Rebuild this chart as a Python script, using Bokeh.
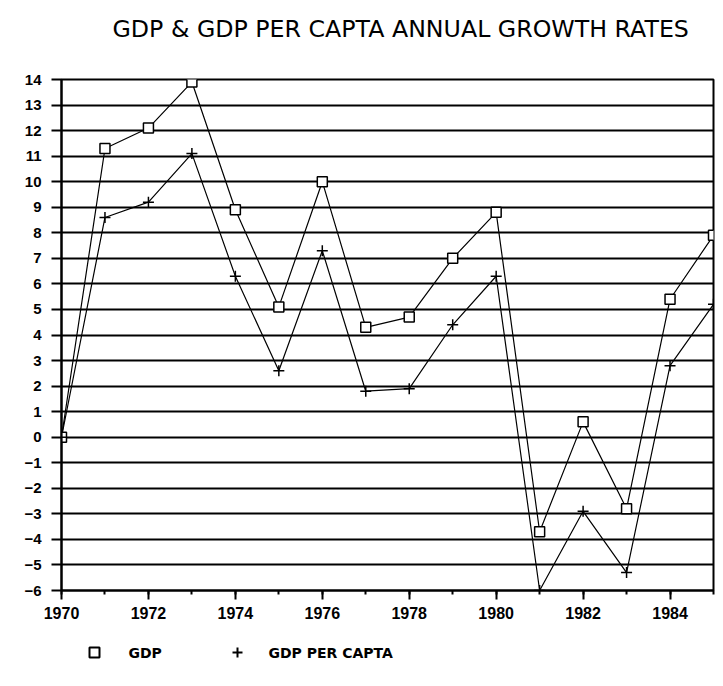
from bokeh.plotting import figure
from bokeh.layouts import column
from bokeh.models import FixedTicker
from bokeh.core.properties import value
from bokeh.embed import file_html
from bokeh.resources import INLINE

years = list(range(1970, 1986))
gdp = [0, 11.3, 12.1, 13.9, 8.9, 5.1, 10.0, 4.3, 4.7, 7.0, 8.8, -3.7, 0.6, -2.8, 5.4, 7.9]
gdp_per_capita = [0, 8.6, 9.2, 11.1, 6.3, 2.6, 7.3, 1.8, 1.9, 4.4, 6.3, -6.0, -2.9, -5.3, 2.8, 5.2]
x_ticks = [1970, 1972, 1974, 1976, 1978, 1980, 1982, 1984]
y_ticks = list(range(-6, 15))
series_names = ["GDP", "GDP PER CAPTA"]
title_text = "GDP & GDP PER CAPTA ANNUAL GROWTH RATES"

W = 719
LEFT = 61
RIGHT = 6
FW = W - LEFT - RIGHT  # frame width in pixels (strips share the chart's frame)

# ---- title strip ----
tt = figure(width=W, height=50, output_backend="svg", toolbar_location=None,
            x_range=(0, FW), y_range=(0, 50),
            min_border_left=LEFT, min_border_right=RIGHT, min_border_top=0, min_border_bottom=0,
            x_axis_location=None, y_axis_location=None)
tt.grid.grid_line_color = None
tt.outline_line_color = None
tt.text(x=[51], y=[22], text=[title_text], text_font=value("DejaVu Sans"),
        text_font_size="23.7px", text_color="black", text_baseline="middle", text_align="left")

# ---- main chart ----
p = figure(width=W, height=575, output_backend="svg", toolbar_location=None,
           x_range=(1970, 1985), y_range=(-6, 14),
           min_border_left=LEFT, min_border_right=RIGHT, min_border_top=29, min_border_bottom=35)

p.outline_line_color = "black"
p.outline_line_width = 2
p.background_fill_color = "white"
p.border_fill_color = "white"

p.xgrid.grid_line_color = None
p.ygrid.grid_line_color = "black"
p.ygrid.grid_line_width = 2
p.ygrid.grid_line_alpha = 1.0

p.xaxis.ticker = FixedTicker(ticks=x_ticks, minor_ticks=years)
p.yaxis.ticker = FixedTicker(ticks=y_ticks)
for ax in (p.xaxis, p.yaxis):
    ax.axis_line_color = "black"
    ax.axis_line_width = 2
    ax.major_tick_line_color = "black"
    ax.major_tick_line_width = 2
    ax.minor_tick_line_color = "black"
    ax.minor_tick_line_width = 2
    ax.major_label_text_font = "Liberation Sans"
    ax.major_label_text_font_style = "bold"
    ax.major_label_text_color = "black"
p.xaxis.major_label_text_font_size = "16px"
p.yaxis.major_label_text_font_size = "15px"
p.xaxis.major_tick_in = 0
p.xaxis.major_tick_out = 9
p.xaxis.minor_tick_in = 0
p.xaxis.minor_tick_out = 4
p.xaxis.major_label_standoff = 7
p.yaxis.major_tick_in = 0
p.yaxis.major_tick_out = 10
p.yaxis.minor_tick_line_color = None
p.yaxis.major_label_standoff = 10

p.line(years, gdp, line_color="black", line_width=1.2)
p.line(years, gdp_per_capita, line_color="black", line_width=1.2)
p.scatter(years, gdp, marker="square", size=10, fill_color="white",
          line_color="black", line_width=1.5)
p.scatter(years, gdp_per_capita, marker="cross", size=11,
          line_color="black", line_width=1.5)

# ---- legend strip ----
lg = figure(width=W, height=55, output_backend="svg", toolbar_location=None,
            x_range=(0, FW), y_range=(0, 55),
            min_border_left=LEFT, min_border_right=RIGHT, min_border_top=0, min_border_bottom=0,
            x_axis_location=None, y_axis_location=None)
lg.grid.grid_line_color = None
lg.outline_line_color = None
lg.scatter(x=[33], y=[28], marker="square", size=10, fill_color="white",
           line_color="black", line_width=2)
lg.scatter(x=[176], y=[28], marker="cross", size=10, line_color="black", line_width=2)
lg.text(x=[67, 207], y=[28, 28], text=series_names, text_font=value("DejaVu Sans"),
        text_font_style="bold", text_font_size="14px", text_color="black",
        text_baseline="middle", text_align="left")

layout = column(tt, p, lg, spacing=0)
open("out.html", "w").write(file_html(layout, INLINE))
